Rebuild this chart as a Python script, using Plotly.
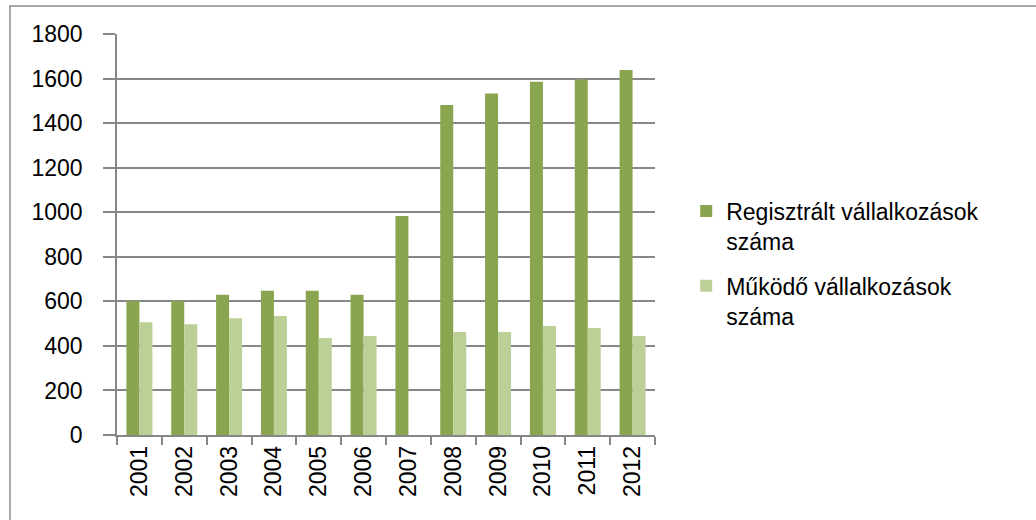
import plotly.graph_objects as go

years = ["2001", "2002", "2003", "2004", "2005", "2006", "2007", "2008", "2009", "2010", "2011", "2012"]
registered = [603, 603, 630, 648, 648, 630, 983, 1481, 1533, 1586, 1596, 1638]
operating = [506, 497, 524, 534, 435, 444, None, 462, 462, 489, 480, 444]
name_registered = "Regisztrált vállalkozások<br>száma"
name_operating = "Működő vállalkozások<br>száma"
y_ticks = [0, 200, 400, 600, 800, 1000, 1200, 1400, 1600, 1800]

font_family = "Liberation Sans"
grid_color = "#878787"

fig = go.Figure()
fig.add_trace(go.Bar(x=years, y=registered, name=name_registered, legendgroup="a",
                     marker=dict(color="#8AA54F", line=dict(width=0))))
fig.add_trace(go.Bar(x=years, y=operating, name=name_operating, legendgroup="b",
                     marker=dict(color="#BBCF97", line=dict(width=0))))

fig.update_layout(
    width=1036, height=520,
    margin=dict(l=117, r=381, t=34, b=85),
    paper_bgcolor="white", plot_bgcolor="white",
    barmode="group", bargap=0.42, bargroupgap=0,
    font=dict(family=font_family, size=23, color="#000000"),
    legend=dict(x=1.058, y=0.612, xanchor="left", yanchor="top",
                font=dict(size=23, family=font_family),
                valign="top", tracegroupgap=12,
                bgcolor="rgba(0,0,0,0)"),
    shapes=[dict(type="rect", xref="paper", yref="paper",
                 x0=-0.199, x1=1.9, y0=-0.5, y1=1.0698,
                 line=dict(color="#8c8c8c", width=1.5), layer="below")],
)
fig.update_xaxes(
    type="category", tickangle=-90, showgrid=False,
    showline=True, linecolor=grid_color, linewidth=1.5,
    ticks="outside", tickson="boundaries", ticklen=8, tickwidth=1.5, tickcolor=grid_color,
    tickfont=dict(size=23, family=font_family, color="#000000"),
)
fig.update_yaxes(
    range=[0, 1800], tickvals=y_ticks,
    showgrid=True, gridcolor=grid_color, gridwidth=1.5,
    showline=True, linecolor=grid_color, linewidth=1.5,
    ticks="outside", ticklen=12, tickwidth=1.5, tickcolor=grid_color,
    ticklabelstandoff=16, zeroline=False,
    tickfont=dict(size=23, family=font_family, color="#000000"),
)

fig.write_html("out.html", config={"displayModeBar": False},
               post_script="document.body.style.margin='0';document.body.style.padding='0';")
